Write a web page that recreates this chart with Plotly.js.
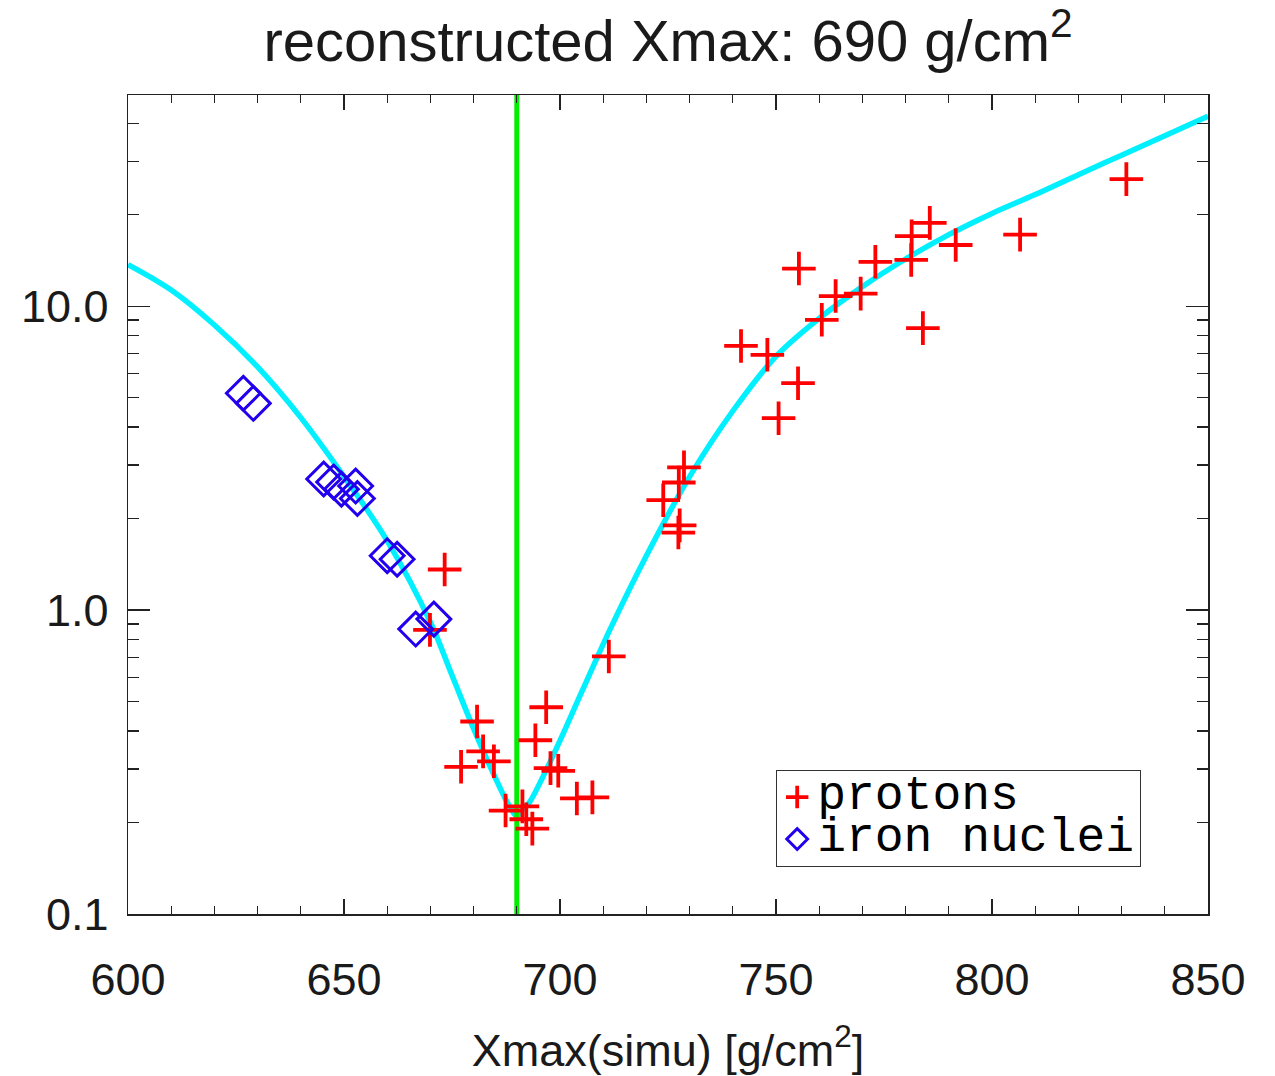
<!DOCTYPE html>
<html>
<head>
<meta charset="utf-8">
<script src="https://cdn.plot.ly/plotly-3.0.1.min.js"></script>
<style>html,body{margin:0;padding:0;background:#fff;}#chart{width:1275px;height:1076px;}</style>
</head>
<body>
<div id="chart"></div>
<script>
// ---- data ----
const reconstructedXmax = 690;

const protonX = [673.3, 669.9, 680.8, 682.2, 684.7, 677.1, 687.4, 691.3, 692.2, 693.6,
  696.8, 694.3, 697.8, 699.6, 703.9, 707.5, 711.3, 723.9, 727.5, 728.7,
  727.7, 727.4, 741.9, 748.0, 750.6, 755.1, 755.3, 760.6, 763.8, 769.6,
  773.0, 781.3, 781.4, 785.6, 784.0, 791.6, 806.5, 831.1];
const protonY = [1.36, 0.861, 0.430, 0.343, 0.318, 0.305, 0.219, 0.226, 0.205, 0.191,
  0.479, 0.373, 0.302, 0.296, 0.240, 0.242, 0.704, 2.30, 2.63, 2.95,
  1.90, 1.80, 7.40, 6.92, 4.28, 5.58, 13.3, 9.02, 10.8, 11.0,
  14.0, 14.2, 17.0, 18.8, 8.47, 15.9, 17.2, 26.2];

const ironX = [626.7, 629.0, 645.3, 647.6, 649.4, 652.7, 653.1, 660.0, 662.3, 666.6, 670.8];
const ironY = [5.17, 4.79, 2.70, 2.64, 2.50, 2.56, 2.33, 1.51, 1.47, 0.866, 0.934];

const curveX = [600, 610, 620, 630, 640, 650, 660, 670, 675, 680, 684, 687, 688.5, 690,
  691.5, 693, 696, 700, 705, 711.7, 720, 730, 740, 750, 760, 770, 780, 790, 800, 810, 820, 830, 840, 850];
const curveY = [13.7, 11.3, 8.67, 6.31, 4.30, 2.75, 1.69, 0.912, 0.610, 0.407, 0.302, 0.245, 0.224, 0.210,
  0.222, 0.234, 0.282, 0.372, 0.537, 0.871, 1.51, 2.75, 4.52, 6.84, 9.12, 11.6, 14.3, 17.2, 20.2, 23.3, 27.1, 31.4, 36.4, 42.2];

const xTickVals = [600, 650, 700, 750, 800, 850];
const yTickVals = [0.1, 1, 10];
const yTickText = ['0.1', '1.0', '10.0'];
const yLogRange = [-1.0, 1.695];

const titleText = 'reconstructed Xmax: 690 g/cm<sup>2</sup>';
const xTitleText = 'Xmax(simu) [g/cm<sup>2</sup>]';
const protonName = 'protons';
const ironName = 'iron nuclei';

// ---- traces ----
const legendSpan = s => '<span style="font-size:48px">' + s + '</span>';

const traces = [
  {
    x: curveX, y: curveY, type: 'scatter', mode: 'lines',
    line: {color: '#00f0ff', width: 5.5, shape: 'spline', smoothing: 1.0},
    showlegend: false, hoverinfo: 'skip'
  },
  {
    x: [reconstructedXmax, reconstructedXmax],
    y: [Math.pow(10, yLogRange[0]), Math.pow(10, yLogRange[1])],
    type: 'scatter', mode: 'lines',
    line: {color: '#00ee00', width: 5},
    showlegend: false, hoverinfo: 'skip'
  },
  {
    x: protonX, y: protonY, type: 'scatter', mode: 'markers', name: legendSpan(protonName),
    marker: {symbol: 'cross-thin-open', size: 24, color: '#ff0000',
             line: {color: '#ff0000', width: 3.8}},
    cliponaxis: false
  },
  {
    x: ironX, y: ironY, type: 'scatter', mode: 'markers', name: legendSpan(ironName),
    marker: {symbol: 'diamond-open', size: 26, color: '#2200ee',
             line: {color: '#2200ee', width: 3}}
  }
];

const axisFont = {family: 'Liberation Sans, Arial, sans-serif', size: 45, color: '#1a1a1a'};

const layout = {
  width: 1275, height: 1076,
  margin: {l: 128, r: 67, t: 95, b: 162},
  paper_bgcolor: '#ffffff', plot_bgcolor: '#ffffff',
  showlegend: true,
  title: {
    text: titleText,
    font: {family: 'Liberation Sans, Arial, sans-serif', size: 58, color: '#1a1a1a'},
    xref: 'paper', x: 0.5, xanchor: 'center',
    yref: 'container', y: 0.962, yanchor: 'middle'
  },
  xaxis: {
    range: [600, 850], type: 'linear',
    tickmode: 'array', tickvals: xTickVals,
    ticks: 'inside', ticklen: 15, tickwidth: 1.3, tickcolor: '#222',
    minor: {dtick: 10, ticks: 'inside', ticklen: 8, tickwidth: 1.3, tickcolor: '#222', showgrid: false},
    showline: true, linecolor: '#222', linewidth: 1.5, mirror: 'allticks',
    showgrid: false, zeroline: false,
    tickfont: axisFont, ticklabelstandoff: 25,
    title: {text: xTitleText, font: axisFont, standoff: 42}
  },
  yaxis: {
    type: 'log', range: yLogRange,
    tickmode: 'array', tickvals: yTickVals, ticktext: yTickText,
    ticks: 'inside', ticklen: 22, tickwidth: 1.3, tickcolor: '#222',
    minor: {tickvals: [0.2,0.3,0.4,0.5,0.6,0.7,0.8,0.9,2,3,4,5,6,7,8,9,20,30,40],
            ticks: 'inside', ticklen: 11, tickwidth: 1.3, tickcolor: '#222', showgrid: false},
    showline: true, linecolor: '#222', linewidth: 1.5, mirror: 'allticks',
    showgrid: false, zeroline: false,
    tickfont: axisFont, ticklabelstandoff: 9
  },
  legend: {
    x: 0.6, xanchor: 'left', xref: 'paper',
    y: 0.176, yanchor: 'top', yref: 'paper',
    bgcolor: '#ffffff', bordercolor: '#333', borderwidth: 1.2,
    font: {family: 'Liberation Mono, Courier New, monospace', size: 30, color: '#000'},
    itemsizing: 'trace', tracegroupgap: 0
  }
};

Plotly.newPlot('chart', traces, layout, {displayModeBar: false, staticPlot: true});
</script>
</body>
</html>
